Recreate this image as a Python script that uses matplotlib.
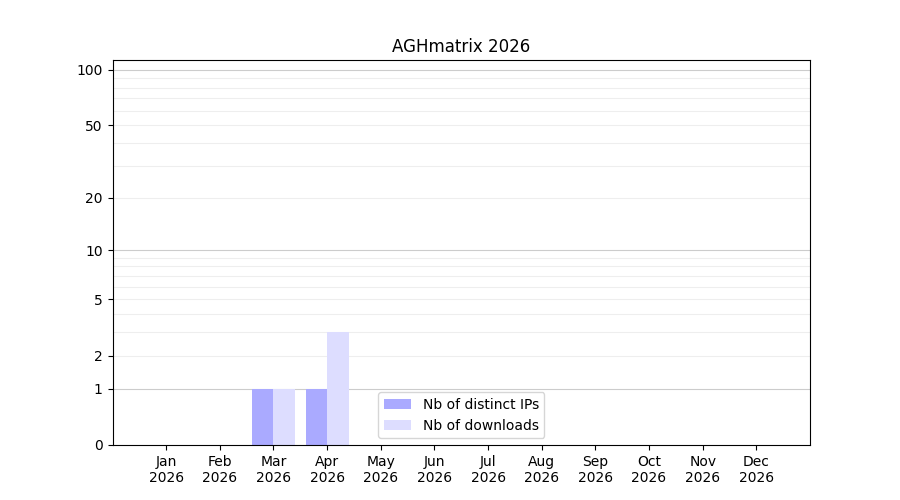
import numpy as np
import matplotlib
matplotlib.use("Agg")
import matplotlib.pyplot as plt

# -------------------------
# Data
# -------------------------
months = ["Jan", "Feb", "Mar", "Apr", "May", "Jun",
          "Jul", "Aug", "Sep", "Oct", "Nov", "Dec"]
year = "2026"
distinct_ips = [0, 0, 1, 1, 0, 0, 0, 0, 0, 0, 0, 0]
downloads = [0, 0, 1, 3, 0, 0, 0, 0, 0, 0, 0, 0]

major_ticks = [0, 1, 2, 5, 10, 20, 50, 100]
major_grid = [1, 10, 100]
minor_grid = [2, 3, 4, 5, 6, 7, 8, 9, 20, 30, 40, 50, 60, 70, 80, 90]


def fwd(v):
    return np.log10(1 + np.asarray(v, dtype=float))


def inv(v):
    return 10 ** np.asarray(v, dtype=float) - 1


fig, ax = plt.subplots(figsize=(9, 5), dpi=100)

x = np.arange(len(months))
w = 0.4
ax.bar(x - w / 2, distinct_ips, width=w, color="#aaaaff", label="Nb of distinct IPs", zorder=2)
ax.bar(x + w / 2, downloads, width=w, color="#ddddff", label="Nb of downloads", zorder=2)

ax.set_yscale("function", functions=(fwd, inv))
ax.set_ylim(0, 113)
ax.set_xlim(-1, 12)

ax.set_yticks(major_ticks)
ax.set_yticklabels([str(t) for t in major_ticks])
ax.set_yticks(minor_grid, minor=True)
ax.tick_params(axis="y", which="minor", length=0)

for g in major_grid:
    ax.axhline(g, color="#cccccc", linewidth=0.8, zorder=1)
for g in minor_grid:
    ax.axhline(g, color="#eeeeee", linewidth=0.8, zorder=1)

ax.set_xticks(x)
ax.set_xticklabels([f"{m}\n{year}" for m in months])

ax.set_title("AGHmatrix 2026")
ax.legend(loc="lower center")

fig.savefig("out.png")
